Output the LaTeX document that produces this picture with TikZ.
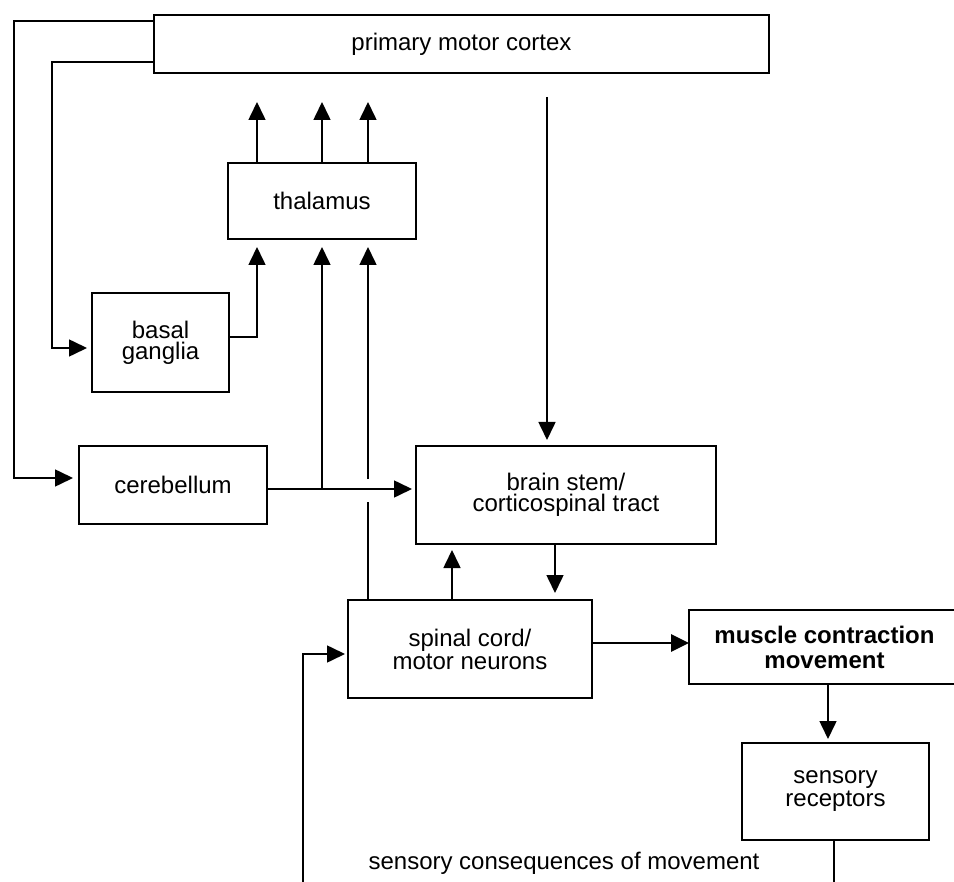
\documentclass[tikz,border=0pt]{standalone}
\usepackage{fontspec}
\setmainfont{Liberation Sans}
\usetikzlibrary{arrows.meta,calc}
\begin{document}
\begin{tikzpicture}[x=0.5pt,y=-0.5pt,
  box/.style={draw, line width=1pt, inner sep=0pt, outer sep=0pt, align=center, font=\fontsize{12}{11.5}\selectfont},
  tight/.style={font=\fontsize{12}{10.5}\selectfont},
  conn/.style={line width=0.8pt},
  arr/.style={conn, -{Triangle[length=9pt,width=8.5pt]}},
]
\useasboundingbox (0,0) rectangle (954,882);
\clip (0,0) rectangle (954,882);

% boxes
\node[box, minimum width=307.5pt, minimum height=29pt] (pmc) at (461.5,44) {primary motor cortex};
\node[box, minimum width=94pt, minimum height=38pt] (thal) at (322,201) {thalamus};
\node[box, tight, minimum width=68.5pt, minimum height=49.5pt] (basal) at (160.5,342.5) {basal\\ganglia};
\node[box, minimum width=94pt, minimum height=39pt] (cereb) at (173,485) {cerebellum};
\node[box, tight, minimum width=150pt, minimum height=49pt] (brain) at (566,495) {brain stem/\\corticospinal tract};
\node[box, minimum width=122pt, minimum height=49pt] (spinal) at (470,649) {spinal cord/\\motor neurons};
\node[box, font=\fontsize{12}{12.5}\selectfont\bfseries, minimum width=135.5pt, minimum height=37pt] (muscle) at (824.5,647) {muscle contraction\\movement};
\node[box, minimum width=93.5pt, minimum height=48.5pt] (sens) at (835.5,791.5) {sensory\\receptors};
\node[inner sep=0pt, font=\fontsize{12}{14}\selectfont] (conseq) at (564,863) {sensory consequences of movement};

% helper coordinates
\coordinate (xa) at (257,0);
\coordinate (xb) at (322,0);
\coordinate (xc) at (368,0);
\coordinate (xd) at (547,0);
\coordinate (xe) at (452,0);
\coordinate (xf) at (555,0);
\coordinate (xg) at (828,0);
\coordinate (xh) at (834,0);
\coordinate (o1) at (14,21);
\coordinate (o2) at (14,478);
\coordinate (i1) at (52,62);
\coordinate (i2) at (52,348);
\coordinate (b1) at (257,337);
\coordinate (cy) at (0,489);
\coordinate (g1) at (368,479);
\coordinate (g2) at (368,502);
\coordinate (sy) at (0,643);
\coordinate (fb1) at (303,900);
\coordinate (fb2) at (303,654);
\coordinate (sb) at (834,900);

% connectors
\draw[arr, shorten >=3pt] (o1 -| pmc.west) -- (o1) -- (o2) -- (o2 -| cereb.west);
\draw[arr, shorten >=2.5pt] (i1 -| pmc.west) -- (i1) -- (i2) -- (i2 -| basal.west);
\draw[arr, shorten >=4pt] (b1 -| basal.east) -- (b1) -- (thal.south -| b1);

\draw[arr, shorten >=14.5pt] (thal.north -| xa) -- (pmc.south -| xa);
\draw[arr, shorten >=14.5pt] (thal.north -| xb) -- (pmc.south -| xb);
\draw[arr, shorten >=14.5pt] (thal.north -| xc) -- (pmc.south -| xc);

\draw[arr, shorten >=2pt] (cy -| cereb.east) -- (cy -| brain.west);
\draw[arr, shorten >=4pt] (cy -| xb) -- (thal.south -| xb);
\draw[conn] (spinal.north -| xc) -- (g2);
\draw[arr, shorten >=4pt] (g1) -- (thal.south -| xc);

\draw[arr, shorten <=12pt, shorten >=3pt] (pmc.south -| xd) -- (brain.north -| xd);
\draw[arr, shorten >=3pt] (spinal.north -| xe) -- (brain.south -| xe);
\draw[arr, shorten >=3.5pt] (brain.south -| xf) -- (spinal.north -| xf);
\draw[arr, line width=1.4pt] (sy -| spinal.east) -- (sy -| muscle.west);
\draw[arr, shorten >=2pt] (muscle.south -| xg) -- (sens.north -| xg);
\draw[conn] (sens.south -| xh) -- (sb);
\draw[arr, shorten >=1.5pt] (fb1) -- (fb2) -- (fb2 -| spinal.west);
\end{tikzpicture}
\end{document}
